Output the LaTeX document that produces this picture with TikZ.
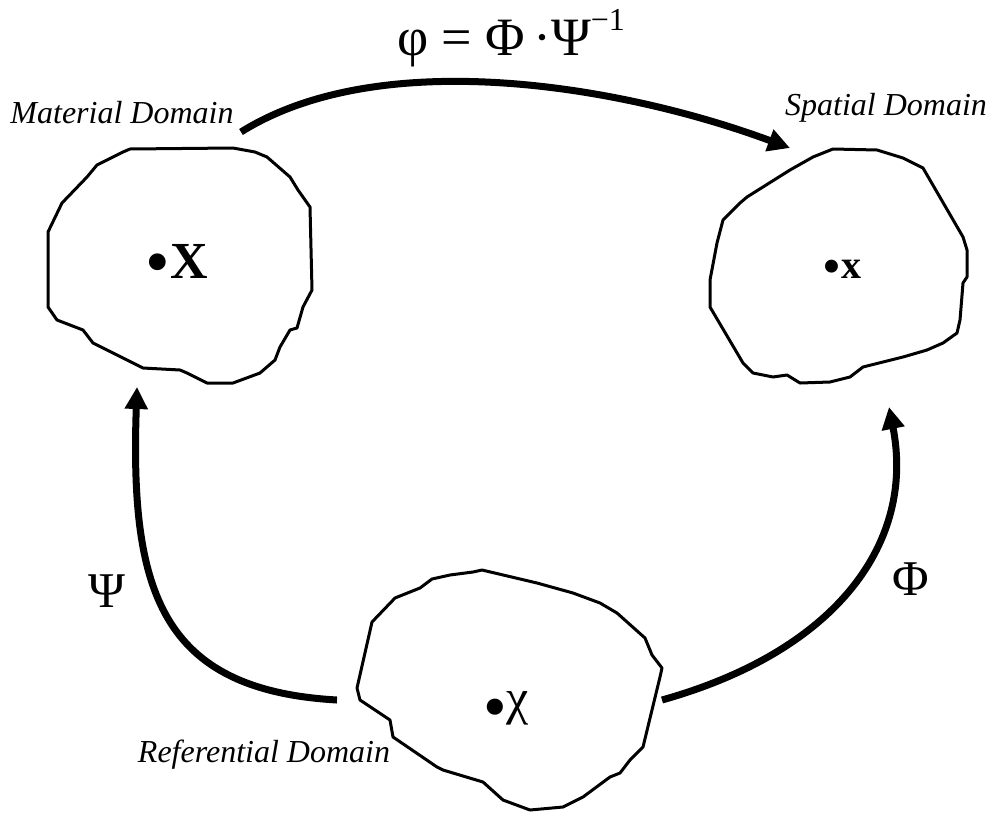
\documentclass[tikz,border=0pt]{standalone}
\usepackage{fontspec}
\setmainfont{Liberation Serif}
\usetikzlibrary{arrows.meta}
\newcommand{\pdot}[1][-0.14em]{\raisebox{#1}{\scalebox{1.35}{•}}}

\begin{document}
\begin{tikzpicture}[x=0.5pt,y=-0.5pt]
      \tikzset{
        region/.style={line width=1.5pt, line join=round},
        map/.style={line width=3.5pt, -{Triangle[length=11pt,width=11pt]}},
        dname/.style={anchor=base, font=\fontsize{16}{19}\selectfont\itshape},
        mapname/.style={anchor=base, font=\fontsize{25}{30}\selectfont},
        ptname/.style={anchor=base, font=\fontsize{26}{30}\selectfont}
      }
      \useasboundingbox (0,0) rectangle (995,814);

      % Domains
      \draw[region] (130,149) -- (233,148) -- (255,152) -- (267,157) -- (290,177) -- (298,190) -- (310,207)
        -- (312,290) -- (303,307) -- (297,328) -- (290,330) -- (280,347) -- (275,360) -- (260,373)
        -- (233,383) -- (207,383) -- (187,373) -- (180,370) -- (143,368) -- (137,365) -- (93,343)
        -- (83,330) -- (57,320) -- (48,307) -- (48,232) -- (62,203) -- (87,177) -- (97,165) -- (123,152) -- cycle; % material
      \draw[region] (833,149) -- (877,150) -- (903,158) -- (923,168) -- (963,237) -- (967,250) -- (967,277)
        -- (963,283) -- (960,320) -- (957,333) -- (943,343) -- (927,350) -- (903,357) -- (863,367)
        -- (850,377) -- (830,382) -- (800,383) -- (787,375) -- (773,377) -- (753,373) -- (743,363)
        -- (710,307) -- (710,280) -- (717,243) -- (723,220) -- (740,203) -- (747,197) -- (790,170) -- (813,157) -- cycle; % spatial
      \draw[region] (482,570) -- (537,583) -- (573,593) -- (600,603) -- (617,613) -- (645,638) -- (652,655)
        -- (662,668) -- (660,677) -- (643,747) -- (630,760) -- (620,773) -- (610,777) -- (583,797)
        -- (563,807) -- (530,810) -- (503,800) -- (483,782) -- (443,770) -- (437,767) -- (393,737)
        -- (390,720) -- (360,700) -- (357,688) -- (372,622) -- (395,598) -- (420,588) -- (432,579)
        -- (450,575) -- (473,572) -- cycle; % referential

      \node[dname] (matname) at (122,123) {Material Domain};
      \node[dname] (spaname) at (886,115) {Spatial Domain};
      \node[dname] (refname) at (264,762) {Referential Domain};

      \node[ptname] (Xpt) at (177,278) {\pdot\textbf{X}};
      \node[ptname, font=\fontsize{20}{24}\selectfont] (xpt) at (842,278) {\pdot[-0.16em]\textbf{x}};
      \node[ptname, font=\fontsize{25}{30}\selectfont] (chipt) at (506,714) {\pdot[-0.3em]χ};

      % Maps
      \coordinate (mat-out) at (241,132);
      \coordinate (mat-in) at (137,387);
      \coordinate (spa-in) at (790,148);
      \coordinate (spa-up) at (889,407);
      \coordinate (ref-l) at (337,700);
      \coordinate (ref-r) at (662,700);

      \draw[map] (mat-out) .. controls (380,45) and (620,85) .. (spa-in);
      \draw[map] (ref-l) .. controls (160,690) and (130,590) .. (mat-in);
      \draw[map] (ref-r) .. controls (840,650) and (915,540) .. (spa-up);

      \node[mapname, font=\fontsize{27}{32}\selectfont] (phi) at (511,55) {φ = Φ\hspace{4pt}·Ψ\raisebox{12.5pt}{\fontsize{16}{19}\selectfont −1}};
      \node[mapname] (Psi) at (107,607) {Ψ};
      \node[mapname] (Phi) at (911,595) {Φ};
\end{tikzpicture}
\end{document}
